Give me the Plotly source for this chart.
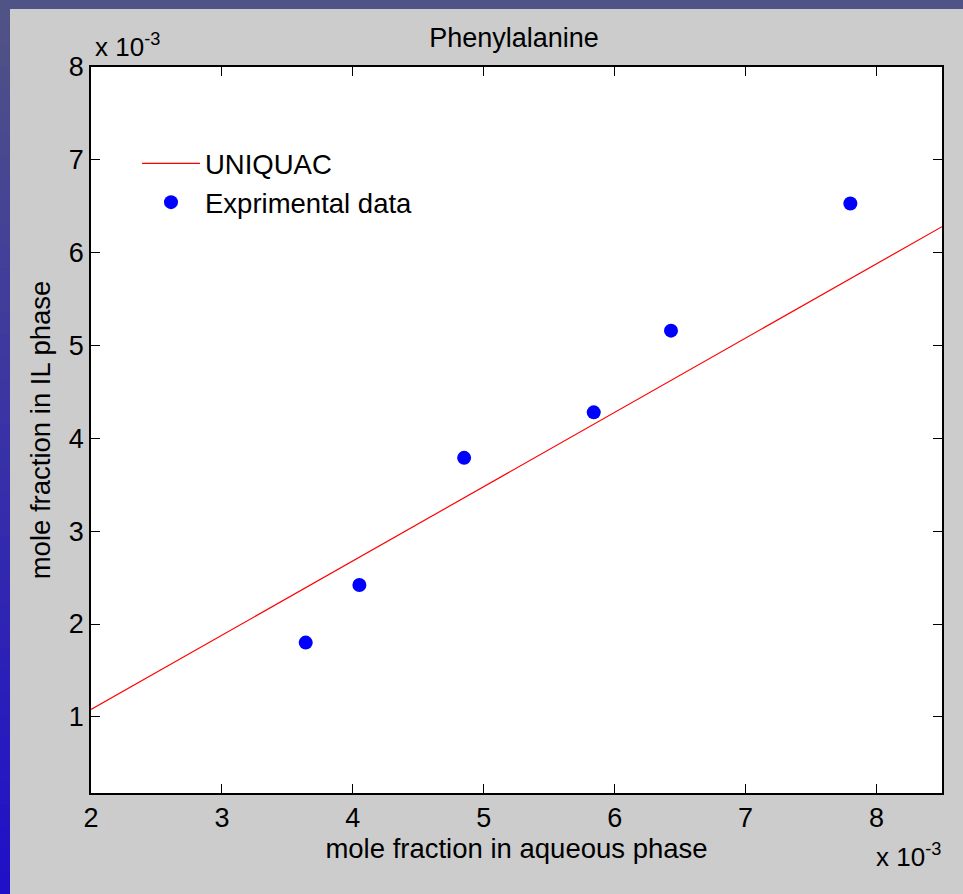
import plotly.graph_objects as go

# Data (values in units of 10^-3)
exp_x = [3.64, 4.05, 4.85, 5.84, 6.43, 7.80]
exp_y = [1.80, 2.42, 3.79, 4.28, 5.16, 6.53]
uniquac_x = [2.0, 8.5]
uniquac_y = [1.08, 6.28]
x_ticks = [2, 3, 4, 5, 6, 7, 8]
y_ticks = [1, 2, 3, 4, 5, 6, 7, 8]

W, H = 963, 894
L, R, T, B = 91, 21, 67, 101
PW, PH = W - L - R, H - T - B

def px_x(p):
    return (p - L) / PW

def px_y(p):
    return (H - B - p) / PH

FONT = "Liberation Sans, Arial, sans-serif"

fig = go.Figure()
fig.add_trace(go.Scatter(x=uniquac_x, y=uniquac_y, mode="lines", name="UNIQUAC",
                         line=dict(color="#ff0000", width=1.2)))
fig.add_trace(go.Scatter(x=exp_x, y=exp_y, mode="markers", name="Exprimental data",
                         marker=dict(color="#0000ff", size=14, symbol="circle")))

shapes = []
# top slide strip
shapes.append(dict(type="rect", xref="paper", yref="paper", layer="below",
                   x0=px_x(0), x1=px_x(W), y0=px_y(9), y1=px_y(0),
                   fillcolor="rgb(80,83,133)", line=dict(width=0)))
# left slide strip with vertical gradient
n = 40
c0 = (80, 83, 133)
c1 = (32, 16, 200)
for i in range(n):
    t = i / (n - 1)
    c = tuple(int(round(c0[k] + (c1[k] - c0[k]) * t)) for k in range(3))
    y0p = H * i / n
    y1p = H * (i + 1) / n + 1
    shapes.append(dict(type="rect", xref="paper", yref="paper", layer="below",
                       x0=px_x(0), x1=px_x(10), y0=px_y(y1p), y1=px_y(y0p),
                       fillcolor="rgb(%d,%d,%d)" % c, line=dict(width=0)))

annotations = [
    dict(text="x 10<sup>-3</sup>", xref="paper", yref="paper",
         x=px_x(93), y=px_y(45), xanchor="left", yanchor="middle", showarrow=False,
         font=dict(family=FONT, size=26, color="#000000")),
    dict(text="x 10<sup>-3</sup>", xref="paper", yref="paper",
         x=px_x(943), y=px_y(855), xanchor="right", yanchor="middle", showarrow=False,
         font=dict(family=FONT, size=26, color="#000000")),
]

axis_common = dict(showline=True, linecolor="#000000", linewidth=1.5, mirror="ticks",
                   ticks="inside", ticklen=9, tickwidth=1.2, tickcolor="#000000",
                   showgrid=False, zeroline=False,
                   tickfont=dict(family=FONT, size=27, color="#000000"))

fig.update_layout(
    width=W, height=H,
    margin=dict(l=L, r=R, t=T, b=B),
    paper_bgcolor="#cccccc",
    plot_bgcolor="#ffffff",
    title=dict(text="Phenylalanine", x=514 / W, xanchor="center",
               y=1 - 38 / H, yanchor="middle",
               font=dict(family=FONT, size=27, color="#000000")),
    xaxis=dict(range=[2, 8.5], tickvals=x_ticks, ticktext=[str(v) for v in x_ticks],
               title=dict(text="mole fraction in aqueous phase", standoff=6,
                          font=dict(family=FONT, size=27.5, color="#000000")),
               **axis_common),
    yaxis=dict(range=[0.18, 8], tickvals=y_ticks, ticktext=[str(v) for v in y_ticks],
               title=dict(text="mole fraction in IL phase", standoff=10,
                          font=dict(family=FONT, size=27.5, color="#000000")),
               **axis_common),
    legend=dict(x=px_x(137), y=px_y(139), xanchor="left", yanchor="top",
                itemwidth=58,
                bgcolor="rgba(0,0,0,0)", borderwidth=0,
                font=dict(family=FONT, size=27.5, color="#000000")),
    shapes=shapes,
    annotations=annotations,
    showlegend=True,
)

fig.write_html("out.html")
